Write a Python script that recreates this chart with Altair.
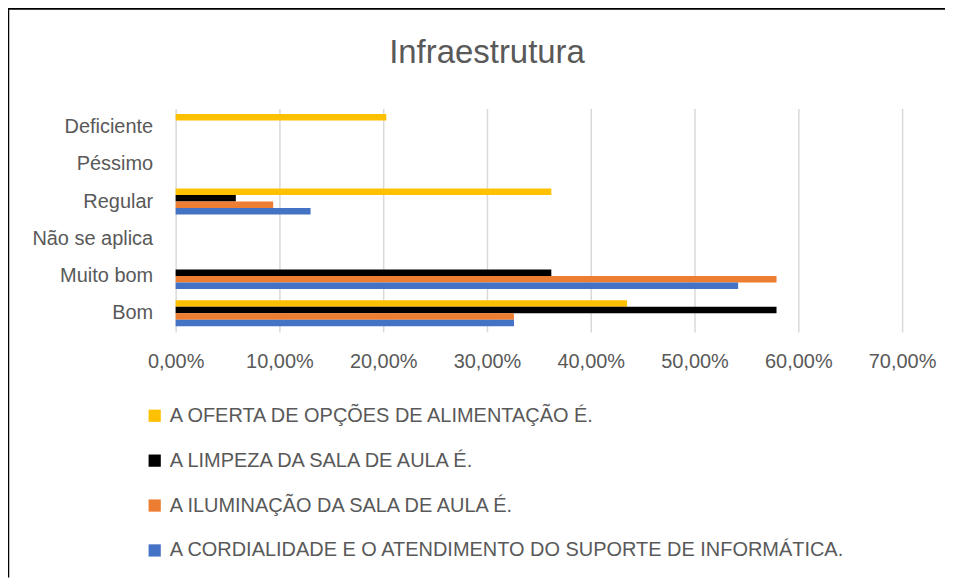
import altair as alt
import pandas as pd

categories = ["Deficiente", "Péssimo", "Regular", "Não se aplica", "Muito bom", "Bom"]
series = [
    "A OFERTA DE OPÇÕES DE ALIMENTAÇÃO É.",
    "\u00a0A LIMPEZA DA SALA DE AULA É.",
    "A ILUMINAÇÃO DA SALA DE AULA É.",
    "A CORDIALIDADE E O ATENDIMENTO DO SUPORTE DE INFORMÁTICA.",
]
colors = ["#FFC000", "#000000", "#ED7D31", "#4472C4"]
alimentacao = [0.203, 0.0, 0.362, 0.0, 0.0, 0.435]
limpeza = [0.0, 0.0, 0.058, 0.0, 0.362, 0.579]
iluminacao = [0.0, 0.0, 0.094, 0.0, 0.579, 0.326]
cordialidade = [0.0, 0.0, 0.130, 0.0, 0.542, 0.326]
x_ticks = [0, 0.1, 0.2, 0.3, 0.4, 0.5, 0.6, 0.7]
title_text = ["Infraestrutura"]

rows = []
for s, vals in zip(series, [alimentacao, limpeza, iluminacao, cordialidade]):
    for c, v in zip(categories, vals):
        rows.append({"categoria": c, "serie": s, "valor": v})
df = pd.DataFrame(rows)

FONT = "Liberation Sans"
TXT = "#595959"

bars = alt.Chart(df).mark_bar().encode(
    x=alt.X(
        "valor:Q",
        scale=alt.Scale(domain=[0, 0.7], nice=False),
        axis=alt.Axis(
            values=x_ticks,
            labelExpr="replace(format(datum.value, '.2%'), '.', ',')",
            title=None,
            grid=True,
            gridColor="#d9d9d9",
            gridWidth=1.5,
            domain=False,
            ticks=False,
            labelFontSize=20,
            labelColor=TXT,
            labelFont=FONT,
            labelPadding=20,
            labelFlush=False,
            labelOverlap=False,
            labelBound=False,
        ),
    ),
    y=alt.Y(
        "categoria:N",
        sort=categories,
        scale=alt.Scale(paddingInner=0.3, paddingOuter=0.15),
        axis=alt.Axis(
            title=None,
            domain=False,
            ticks=False,
            labelFontSize=20,
            labelColor=TXT,
            labelFont=FONT,
            labelPadding=23,
        ),
    ),
    yOffset=alt.YOffset("serie:N", sort=series, scale=alt.Scale(paddingInner=0)),
    color=alt.Color(
        "serie:N",
        sort=series,
        scale=alt.Scale(domain=series, range=colors),
        legend=alt.Legend(
            title=None,
            orient="none",
            legendX=-31,
            legendY=298,
            direction="vertical",
            symbolType="square",
            symbolSize=150,
            symbolStrokeWidth=0,
            labelFontSize=20,
            labelColor=TXT,
            labelFont=FONT,
            labelOffset=5,
            rowPadding=25,
            padding=0,
            labelLimit=900,
        ),
    ),
)

frame_df = pd.DataFrame({"k": [0]})
top_rule = alt.Chart(frame_df).mark_rule(color="#000000", strokeWidth=2.5, clip=False).encode(
    x=alt.value(-168), x2=alt.value(771), y=alt.value(-100)
)
left_rule = alt.Chart(frame_df).mark_rule(color="#000000", strokeWidth=2.5, clip=False).encode(
    x=alt.value(-168), y=alt.value(-100), y2=alt.value(470)
)
title_df = pd.DataFrame({"t": title_text})
title = alt.Chart(title_df).mark_text(
    font=FONT, fontSize=33, color=TXT, align="center", baseline="middle", clip=False
).encode(text="t:N", x=alt.value(312), y=alt.value(-55))

chart = alt.layer(bars, top_rule, left_rule, title).properties(
    width=728,
    height=224,
    background="white",
    padding={"left": -2, "top": -2, "right": 0, "bottom": 0},
).configure_view(strokeWidth=0, stroke="transparent")

chart.save("out.html", embed_options={"renderer": "svg", "actions": False})
